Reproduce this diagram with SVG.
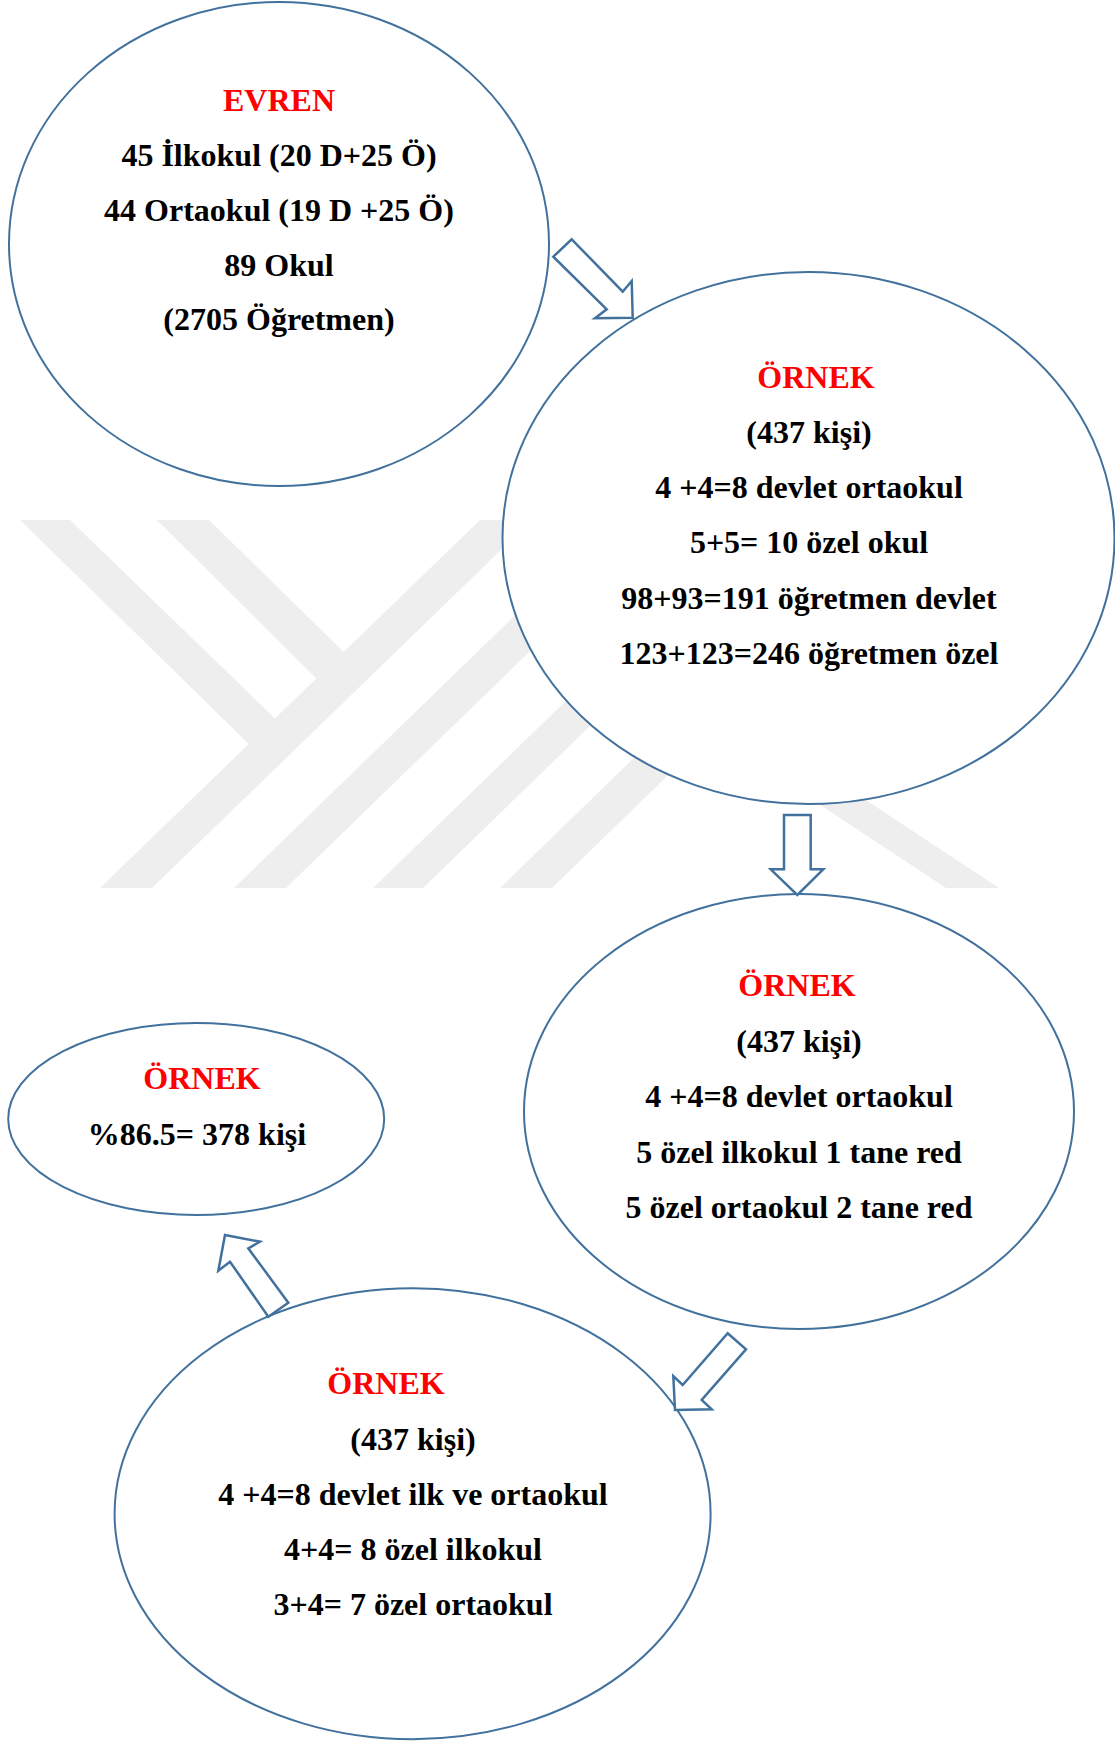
<svg xmlns="http://www.w3.org/2000/svg" width="1115" height="1742" viewBox="0 0 1115 1742">
<style>
.wm{fill:#eeeeee;stroke:none}
.node{fill:#ffffff;stroke:#41719c;stroke-width:2}
.arrow{fill:#ffffff;stroke:#41719c;stroke-width:2.5;stroke-linejoin:miter}
text{font-family:"Liberation Serif","Times New Roman",serif;font-weight:bold;font-size:32px;text-anchor:middle}
.t{fill:#000000}
.h{fill:#ff0000}
</style>
<rect x="0" y="0" width="1115" height="1742" fill="#ffffff"/>
<g id="watermark">
<polygon class="wm" points="100,888 152,888 532,520 480,520"/>
<polygon class="wm" points="20,520 70,520 290,733 262,757"/>
<polygon class="wm" points="157,520 209,520 360,668 330,692"/>
<polygon class="wm" points="234,888 286,888 624,560 572,560"/>
<polygon class="wm" points="373,888 423,888 720,600 670,600"/>
<polygon class="wm" points="500,888 552,888 797,650 745,650"/>
<polygon class="wm" points="946,888 999,888 660,664 607,664"/>
</g>
<g id="evren">
<ellipse class="node" cx="279" cy="244" rx="270" ry="242"/>
<text class="h" x="279" y="111">EVREN</text>
<text class="t" x="279" y="166">45 İlkokul (20 D+25 Ö)</text>
<text class="t" x="279" y="221">44 Ortaokul (19 D +25 Ö)</text>
<text class="t" x="279" y="276">89 Okul</text>
<text class="t" x="279" y="330">(2705 Öğretmen)</text>
</g>
<g id="ornek1">
<ellipse class="node" cx="808.5" cy="538" rx="306" ry="266"/>
<text class="h" x="816" y="388">ÖRNEK</text>
<text class="t" x="809" y="443">(437 kişi)</text>
<text class="t" x="809" y="498">4 +4=8 devlet ortaokul</text>
<text class="t" x="809" y="553">5+5= 10 özel okul</text>
<text class="t" x="809" y="609">98+93=191 öğretmen devlet</text>
<text class="t" x="809" y="664">123+123=246 öğretmen özel</text>
</g>
<g id="ornek2">
<ellipse class="node" cx="799" cy="1111.5" rx="275" ry="217.5"/>
<text class="h" x="797" y="996">ÖRNEK</text>
<text class="t" x="799" y="1052">(437 kişi)</text>
<text class="t" x="799" y="1107">4 +4=8 devlet ortaokul</text>
<text class="t" x="799" y="1163">5 özel ilkokul 1 tane red</text>
<text class="t" x="799" y="1218">5 özel ortaokul 2 tane red</text>
</g>
<g id="ornek3">
<ellipse class="node" cx="412.6" cy="1513.7" rx="298" ry="225.5"/>
<text class="h" x="386" y="1394">ÖRNEK</text>
<text class="t" x="413" y="1450">(437 kişi)</text>
<text class="t" x="413" y="1505">4 +4=8 devlet ilk ve ortaokul</text>
<text class="t" x="413" y="1560">4+4= 8 özel ilkokul</text>
<text class="t" x="413" y="1615">3+4= 7 özel ortaokul</text>
</g>
<g id="sonuc">
<ellipse class="node" cx="196.2" cy="1119" rx="188" ry="96"/>
<text class="h" x="202" y="1089">ÖRNEK</text>
<text class="t" x="197" y="1145">%86.5= 378 kişi</text>
</g>
<g id="connectors">
<polygon class="arrow" points="571.7,239.3 622.7,291.7 631.7,281 632.7,317.7 595,318.3 606.7,309.3 553.3,256.7"/>
<polygon class="arrow" points="784,815 810.7,815 810.7,869.3 823.3,869.3 797.3,895 770.7,869.3 784,869.3"/>
<polygon class="arrow" points="727.7,1333.3 746,1349.3 701.7,1400 711.7,1409.3 675,1410 673.3,1376 682.7,1385"/>
<polygon class="arrow" points="225,1235 260,1241.7 248.3,1248.3 288.3,1302.7 268.3,1316.7 230,1261.7 218.3,1270.7"/>
</g>
</svg>
